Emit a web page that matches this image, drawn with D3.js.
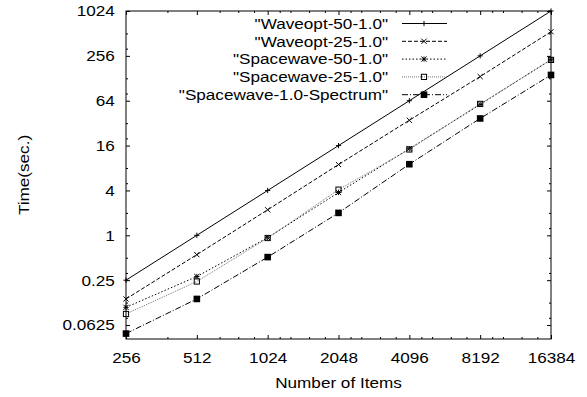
<!DOCTYPE html>
<html>
<head>
<meta charset="utf-8">
<script src="https://cdn.jsdelivr.net/npm/d3@7"></script>
<style>
  body { margin: 0; background: #fff; }
  svg { display: block; font-family: "Liberation Sans", Arial, sans-serif; }
</style>
</head>
<body>
<div id="chart"></div>
<script>
// problem sizes (x) and run times in seconds (y)
const items = [256, 512, 1024, 2048, 4096, 8192, 16384];
const waveopt50 = [0.25, 1, 4, 16, 64, 256, 1024];
const waveopt25 = [0.14, 0.55, 2.2, 8.9, 35, 135, 540];
const spacewave50 = [0.108, 0.28, 0.93, 3.75, 14.5, 57, 228];
const spacewave25 = [0.088, 0.24, 0.92, 4.1, 14.2, 58, 226];
const spectrum = [0.048, 0.14, 0.51, 2.0, 9.0, 37, 142];

const seriesNames = ['"Waveopt-50-1.0"', '"Waveopt-25-1.0"', '"Spacewave-50-1.0"',
                     '"Spacewave-25-1.0"', '"Spacewave-1.0-Spectrum"'];
const seriesValues = [waveopt50, waveopt25, spacewave50, spacewave25, spectrum];

const xTicks = [256, 512, 1024, 2048, 4096, 8192, 16384];
const xMinor = [384, 640, 768, 896, 1152, 1280, 1536, 1792, 2304, 2560, 3072, 3584,
                4608, 5120, 6144, 7168, 9216, 10240, 12288, 14336];
const yTicks = [0.0625, 0.25, 1, 4, 16, 64, 256, 1024];
const yTickLabels = ["0.0625", "0.25", "1", "4", "16", "64", "256", "1024"];
const yMinor = [0.078125, 0.125, 0.3125, 0.5, 1.25, 2, 5, 8, 20, 32, 80, 128, 320, 512];

const width = 587, height = 397;
const pLeft = 126, pRight = 551, pTop = 11, pBottom = 339;
// the original font is a little wider than it is tall
const fs = 15.3, sx = 1.12;

const x = d3.scaleLog().base(2).domain([256, 16384]).range([pLeft, pRight]);
const y = d3.scaleLog().base(2).domain([0.0406, 1024]).range([pBottom, pTop]);

const svg = d3.select("#chart").append("svg")
  .attr("width", width)
  .attr("height", height);

// line styles, gnuplot-ish monochrome
const styles = [
  { dash: null, color: "#000", marker: "plus" },
  { dash: "4,2", color: "#000", marker: "cross" },
  { dash: "1.5,2", color: "#000", marker: "star" },
  { dash: "1,1", color: "#777", marker: "box" },
  { dash: "6,2,1,2", color: "#000", marker: "fbox" }
];

function drawMarker (g, type, cx, cy) {
  const s = 2.6;
  if (type === "plus") {
    g.append("path").attr("d", `M${cx - s},${cy}H${cx + s}M${cx},${cy - s}V${cy + s}`)
      .attr("stroke", "#000").attr("fill", "none");
  } else if (type === "cross") {
    g.append("path").attr("d", `M${cx - s},${cy - s}L${cx + s},${cy + s}M${cx - s},${cy + s}L${cx + s},${cy - s}`)
      .attr("stroke", "#000").attr("fill", "none");
  } else if (type === "star") {
    g.append("path").attr("d", `M${cx - s},${cy}H${cx + s}M${cx},${cy - s}V${cy + s}M${cx - s},${cy - s}L${cx + s},${cy + s}M${cx - s},${cy + s}L${cx + s},${cy - s}`)
      .attr("stroke", "#000").attr("fill", "none");
  } else if (type === "box") {
    g.append("rect").attr("x", cx - s).attr("y", cy - s).attr("width", 2 * s).attr("height", 2 * s)
      .attr("stroke", "#000").attr("fill", "none");
  } else {
    g.append("rect").attr("x", cx - 3.3).attr("y", cy - 3.3).attr("width", 6.6).attr("height", 6.6)
      .attr("fill", "#000");
  }
}

// axes: ticks point inwards and are mirrored on the opposite side
function addAxis (axis, transform, labels) {
  const g = svg.append("g").attr("transform", transform).call(axis);
  g.select(".domain").remove();
  g.selectAll("line").attr("stroke", "#000");
  if (!labels) g.selectAll("text").remove();
  return g;
}

const bottomAxis = addAxis(d3.axisBottom(x).tickValues(xTicks).tickFormat(d3.format("d")).tickSize(-4).tickPadding(13),
  `translate(0,${pBottom})`, true);
bottomAxis.selectAll("text").attr("font-size", fs).attr("fill", "#000")
  .attr("transform", `scale(${sx},1)`);
addAxis(d3.axisBottom(x).tickValues(xMinor).tickSize(-2), `translate(0,${pBottom})`, false);
addAxis(d3.axisTop(x).tickValues(xTicks).tickSize(-4), `translate(0,${pTop})`, false);
addAxis(d3.axisTop(x).tickValues(xMinor).tickSize(-2), `translate(0,${pTop})`, false);

const leftAxis = addAxis(d3.axisLeft(y).tickValues(yTicks).tickFormat((d, i) => yTickLabels[i]).tickSize(-4).tickPadding(10),
  `translate(${pLeft},0)`, true);
leftAxis.selectAll("text").attr("font-size", fs).attr("fill", "#000")
  .attr("transform", `scale(${sx},1)`);
addAxis(d3.axisLeft(y).tickValues(yMinor).tickSize(-2), `translate(${pLeft},0)`, false);
addAxis(d3.axisRight(y).tickValues(yTicks).tickSize(-4), `translate(${pRight},0)`, false);
addAxis(d3.axisRight(y).tickValues(yMinor).tickSize(-2), `translate(${pRight},0)`, false);

svg.selectAll(".tick line").attr("stroke-width", 1);

// frame
svg.append("rect")
  .attr("x", pLeft).attr("y", pTop)
  .attr("width", pRight - pLeft).attr("height", pBottom - pTop)
  .attr("fill", "none").attr("stroke", "#000").attr("stroke-width", 1);

// axis titles
svg.append("text")
  .attr("transform", `translate(${(pLeft + pRight) / 2},388) scale(${sx},1)`)
  .attr("text-anchor", "middle").attr("font-size", fs)
  .text("Number of Items");

svg.append("text")
  .attr("transform", `translate(29,${(pTop + pBottom) / 2}) rotate(-90) scale(${sx},1)`)
  .attr("text-anchor", "middle").attr("font-size", fs)
  .text("Time(sec.)");

// legend + curves
const line = d3.line().x(d => x(d[0])).y(d => y(d[1]));

seriesValues.forEach((vals, i) => {
  const st = styles[i];
  const g = svg.append("g");
  const ly = 23.5 + i * 17.8;

  g.append("text")
    .attr("transform", `translate(388,${ly}) scale(${sx},1)`)
    .attr("dy", "0.35em")
    .attr("text-anchor", "end").attr("font-size", fs)
    .text(seriesNames[i]);

  g.append("line")
    .attr("x1", 402).attr("x2", 447).attr("y1", ly).attr("y2", ly)
    .attr("stroke", st.color).attr("stroke-dasharray", st.dash);
  drawMarker(g, st.marker, 424, ly);

  const pts = items.map((n, j) => [n, vals[j]]);
  g.append("path")
    .attr("d", line(pts))
    .attr("fill", "none")
    .attr("stroke", st.color)
    .attr("stroke-dasharray", st.dash);
  pts.forEach(p => drawMarker(g, st.marker, x(p[0]), y(p[1])));
});
</script>
</body>
</html>
